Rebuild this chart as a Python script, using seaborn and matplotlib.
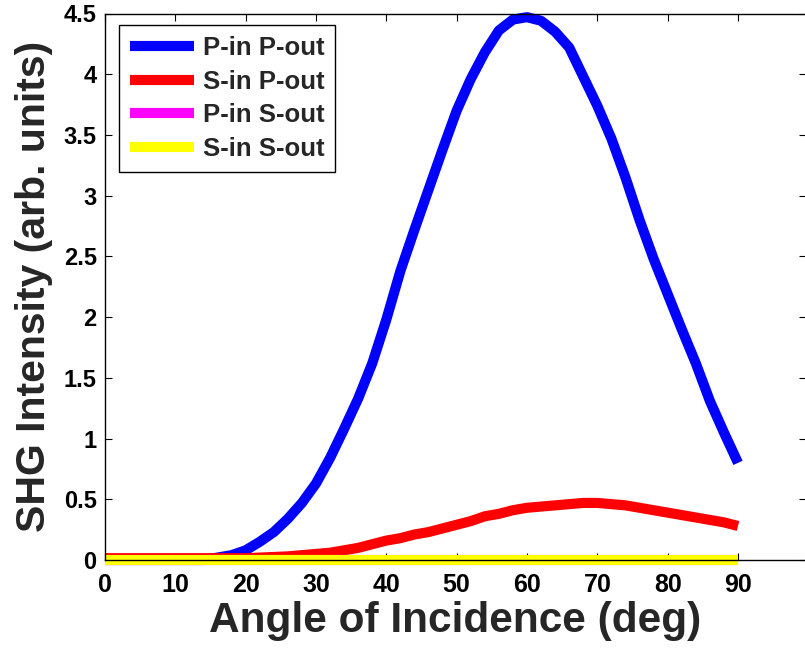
import matplotlib
matplotlib.use("Agg")
import matplotlib.pyplot as plt
import seaborn as sns
import pandas as pd
from matplotlib.lines import Line2D

angles = [0, 2, 4, 6, 8, 10, 12, 14, 16, 18, 20, 22, 24, 26, 28, 30, 32, 34, 36, 38,
          40, 42, 44, 46, 48, 50, 52, 54, 56, 58, 60, 62, 64, 66, 68, 70, 72, 74, 76, 78,
          80, 82, 84, 86, 88, 90]

p_in_p_out = [0, 0, 0, 0, 0, 0, 0, 0.0, 0.02, 0.04, 0.08, 0.15, 0.23, 0.34, 0.47, 0.63,
              0.84, 1.08, 1.33, 1.62, 1.98, 2.38, 2.72, 3.05, 3.38, 3.70, 3.96, 4.18, 4.36,
              4.45, 4.47, 4.44, 4.35, 4.22, 3.98, 3.74, 3.47, 3.15, 2.80, 2.48, 2.19, 1.90,
              1.62, 1.31, 1.05, 0.80]

s_in_p_out = [0.015, 0.015, 0.015, 0.015, 0.015, 0.015, 0.015, 0.015, 0.015, 0.015, 0.015,
              0.02, 0.025, 0.03, 0.04, 0.05, 0.06, 0.08, 0.10, 0.13, 0.16, 0.18, 0.21, 0.23,
              0.26, 0.29, 0.32, 0.36, 0.38, 0.41, 0.43, 0.44, 0.45, 0.46, 0.47, 0.47, 0.46,
              0.45, 0.43, 0.41, 0.39, 0.37, 0.35, 0.33, 0.31, 0.28]

p_in_s_out = [0.0] * len(angles)
s_in_s_out = [0.0] * len(angles)

series_names = ["P-in P-out", "S-in P-out", "P-in S-out", "S-in S-out"]
series_colors = ["#0000ff", "#ff0000", "#ff00ff", "#ffff00"]

xticks = [0, 10, 20, 30, 40, 50, 60, 70, 80, 90]
yticks = [0, 0.5, 1, 1.5, 2, 2.5, 3, 3.5, 4, 4.5]
ytick_labels = ["0", "0.5", "1", "1.5", "2", "2.5", "3", "3.5", "4", "4.5"]

df = pd.concat([
    pd.DataFrame({"angle": angles, "value": vals, "series": name})
    for name, vals in zip(series_names,
                          [p_in_p_out, s_in_p_out, p_in_s_out, s_in_s_out])
], ignore_index=True)

sns.set_style("ticks")
plt.rcParams["font.family"] = ["Liberation Sans", "DejaVu Sans"]

fig = plt.figure(figsize=(8.05, 6.48), dpi=100)
W, H = 805, 648
left_px, right_px, top_px, bot_px = 105, 805.5, 13.5, 560
ax = fig.add_axes([left_px / W, (H - bot_px) / H, (right_px - left_px) / W,
                   (bot_px - top_px) / H])

lw = 7.3
sns.lineplot(data=df, x="angle", y="value", hue="series", hue_order=series_names,
             palette=series_colors, linewidth=lw, ax=ax, legend=False,
             estimator=None, sort=False)
for ln in ax.get_lines():
    ln.set_clip_on(False)
    ln.set_solid_capstyle("butt")
    ln.set_solid_joinstyle("round")

ax.set_xlim(0, (right_px - left_px) / ((738 - left_px) / 90.0))
ax.set_ylim(0, 4.5)
ax.set_xticks(xticks)
ax.set_xticklabels([str(t) for t in xticks], fontweight="bold", fontsize=18)
ax.set_yticks(yticks)
ax.set_yticklabels(ytick_labels, fontweight="bold", fontsize=17)
ax.tick_params(direction="in", length=5, width=0.8, top=True, right=True,
               colors="black")
ax.tick_params(axis="x", pad=9)
ax.tick_params(axis="y", pad=6)
for sp in ax.spines.values():
    sp.set_visible(True)
    sp.set_linewidth(1.0)
    sp.set_color("black")

ax.set_xlabel("Angle of Incidence (deg)", fontweight="bold", fontsize=30.5, labelpad=3)
ax.set_ylabel("SHG Intensity (arb. units)", fontweight="bold", fontsize=29.5,
              labelpad=8)

handles = [Line2D([], [], color=c, linewidth=lw, solid_capstyle="butt")
           for c in series_colors]
leg = ax.legend(handles, series_names, loc="upper left",
                bbox_to_anchor=(14 / (right_px - left_px), 1 - 11.5 / (bot_px - top_px)),
                prop={"weight": "bold", "size": 18.5}, frameon=True, fancybox=False,
                edgecolor="black", framealpha=1, handlelength=2.5, handletextpad=0.35,
                labelspacing=0.38, borderpad=0.42, borderaxespad=0)
leg.get_frame().set_linewidth(1.0)

fig.savefig("out.png", dpi=100)
